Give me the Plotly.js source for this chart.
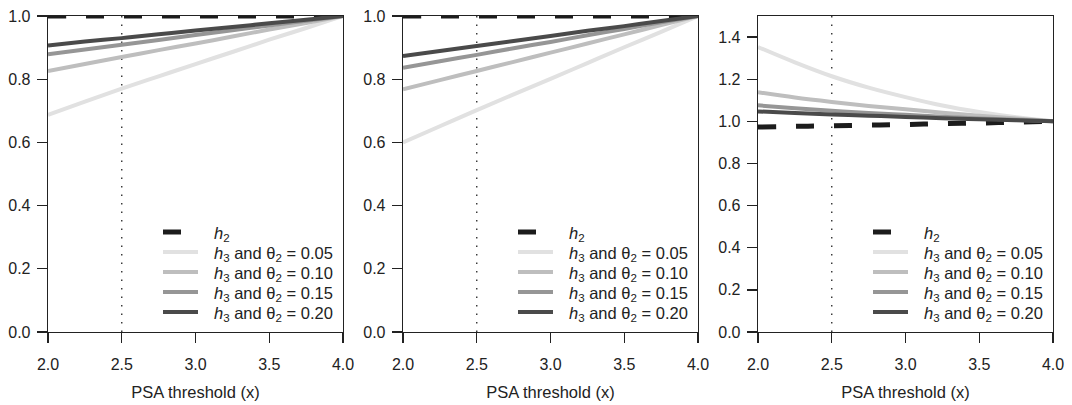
<!DOCTYPE html>
<html>
<head>
<meta charset="utf-8">
<script src="https://cdn.plot.ly/plotly-3.0.1.min.js"></script>
<style>html,body{margin:0;padding:0;background:#fff;}#chart{width:1072px;height:405px;}</style>
</head>
<body>
<div id="chart"></div>
<script>
// ---- data ----
const psaThreshold = [2.0, 2.25, 2.5, 2.75, 3.0, 3.25, 3.5, 3.75, 4.0];
const seriesNames = ["<i>h</i><sub>2</sub>",
  "<i>h</i><sub>3</sub> and θ<sub>2</sub> = 0.05",
  "<i>h</i><sub>3</sub> and θ<sub>2</sub> = 0.10",
  "<i>h</i><sub>3</sub> and θ<sub>2</sub> = 0.15",
  "<i>h</i><sub>3</sub> and θ<sub>2</sub> = 0.20"];
// panel 1
const p1_h2   = [1.0, 1.0, 1.0, 1.0, 1.0, 1.0, 1.0, 1.0, 1.0];
const p1_t005 = [0.687, 0.729, 0.770, 0.809, 0.848, 0.886, 0.925, 0.962, 1.0];
const p1_t010 = [0.826, 0.848, 0.870, 0.892, 0.913, 0.935, 0.957, 0.978, 1.0];
const p1_t015 = [0.879, 0.894, 0.909, 0.924, 0.940, 0.955, 0.970, 0.985, 1.0];
const p1_t020 = [0.907, 0.919, 0.930, 0.942, 0.954, 0.965, 0.977, 0.988, 1.0];
// panel 2
const p2_h2   = [1.0, 1.0, 1.0, 1.0, 1.0, 1.0, 1.0, 1.0, 1.0];
const p2_t005 = [0.600, 0.651, 0.702, 0.752, 0.801, 0.851, 0.901, 0.950, 1.0];
const p2_t010 = [0.768, 0.797, 0.826, 0.855, 0.884, 0.913, 0.942, 0.971, 1.0];
const p2_t015 = [0.836, 0.857, 0.877, 0.898, 0.918, 0.939, 0.959, 0.980, 1.0];
const p2_t020 = [0.873, 0.889, 0.905, 0.921, 0.937, 0.953, 0.968, 0.984, 1.0];
// panel 3
const p3_h2   = [0.973, 0.976, 0.979, 0.982, 0.985, 0.989, 0.992, 0.996, 1.0];
const p3_t005 = [1.353, 1.280, 1.214, 1.160, 1.115, 1.075, 1.044, 1.019, 1.0];
const p3_t010 = [1.138, 1.113, 1.092, 1.073, 1.057, 1.041, 1.027, 1.013, 1.0];
const p3_t015 = [1.076, 1.062, 1.050, 1.040, 1.031, 1.022, 1.014, 1.007, 1.0];
const p3_t020 = [1.047, 1.040, 1.033, 1.027, 1.021, 1.015, 1.010, 1.005, 1.0];
const referenceX = 2.5;
const xTicks = [2.0, 2.5, 3.0, 3.5, 4.0];
const yTicks12 = [0.0, 0.2, 0.4, 0.6, 0.8, 1.0];
const yTicks3 = [0.0, 0.2, 0.4, 0.6, 0.8, 1.0, 1.2, 1.4];
const xTitle = "PSA threshold (x)";

// ---- styling ----
const colors = ["#1c1c1c", "#e1e1e1", "#bebebe", "#969696", "#4a4a4a"];
const FONT = "Liberation Sans, Arial, Helvetica, sans-serif";
const TXT = "#222";
const panels = [
  {ys: [p1_h2, p1_t005, p1_t010, p1_t015, p1_t020], xa: "x", ya: "y"},
  {ys: [p2_h2, p2_t005, p2_t010, p2_t015, p2_t020], xa: "x2", ya: "y2"},
  {ys: [p3_h2, p3_t005, p3_t010, p3_t015, p3_t020], xa: "x3", ya: "y3"}
];
const traces = [];
panels.forEach(p => {
  p.ys.forEach((y, i) => {
    traces.push({
      x: psaThreshold, y: y, xaxis: p.xa, yaxis: p.ya,
      type: "scatter", mode: "lines", name: seriesNames[i], cliponaxis: false, showlegend: false,
      line: {color: colors[i], width: i === 0 ? 5 : 4, dash: i === 0 ? "18px,20px" : "solid", shape: "spline"},
      hoverinfo: "skip"
    });
  });
});

const W = 1005, PW = 295, PH = 316;
const doms = [[0, PW / W], [355 / W, 650 / W], [710 / W, 1]];
function xaxis(i) {
  return {domain: doms[i], range: [2, 4], tickvals: xTicks, ticktext: xTicks.map(v => v.toFixed(1)),
    ticks: "outside", ticklen: 10, tickwidth: 1.3, tickcolor: TXT,
    showline: true, linecolor: TXT, linewidth: 1.3, mirror: true, showgrid: false, zeroline: false,
    anchor: i === 0 ? "y" : "y" + (i + 1), ticklabelstandoff: 7,
    tickfont: {family: FONT, size: 16, color: TXT},
    title: {text: xTitle, font: {family: FONT, size: 16.5, color: TXT}, standoff: 15}};
}
function yaxis(i, rng, tv) {
  return {domain: [0, 1], range: rng, tickvals: tv, ticktext: tv.map(v => v.toFixed(1)),
    ticks: "outside", ticklen: 10, tickwidth: 1.3, tickcolor: TXT,
    showline: true, linecolor: TXT, linewidth: 1.3, mirror: true, showgrid: false, zeroline: false,
    anchor: i === 0 ? "x" : "x" + (i + 1), ticklabelstandoff: 3,
    tickfont: {family: FONT, size: 16, color: TXT}};
}
const shapes = [];
const annotations = [];
["", "2", "3"].forEach(n => {
  shapes.push({
    type: "line", xref: "x" + n, yref: "y" + n + " domain",
    x0: referenceX, x1: referenceX, y0: 0, y1: 1,
    line: {color: "#333", width: 1.4, dash: "1.5px,7px"}, layer: "below"
  });
  // legend keys (manual legend)
  seriesNames.forEach((name, j) => {
    const yy = (PH - (216 + 20 * j)) / PH;
    shapes.push({
      type: "line", xref: "x" + n + " domain", yref: "y" + n + " domain",
      x0: 115 / PW, x1: (j === 0 ? 133 : 150) / PW, y0: yy, y1: yy,
      line: {color: colors[j], width: j === 0 ? 5 : 4}
    });
    annotations.push({
      xref: "x" + n + " domain", yref: "y" + n + " domain", x: 164 / PW, y: yy,
      xanchor: "left", yanchor: "middle", yshift: -2, showarrow: false, text: name,
      font: {family: FONT, size: 16.5, color: TXT}
    });
  });
});

const layout = {
  width: 1072, height: 405, margin: {l: 48, r: 19, t: 16, b: 73},
  paper_bgcolor: "#fff", plot_bgcolor: "#fff", showlegend: false,
  xaxis: xaxis(0), xaxis2: xaxis(1), xaxis3: xaxis(2),
  yaxis: yaxis(0, [0, 1], yTicks12), yaxis2: yaxis(1, [0, 1], yTicks12), yaxis3: yaxis(2, [0, 1.5], yTicks3),
  shapes: shapes, annotations: annotations
};
Plotly.newPlot("chart", traces, layout, {displayModeBar: false, staticPlot: true});
</script>
</body>
</html>
